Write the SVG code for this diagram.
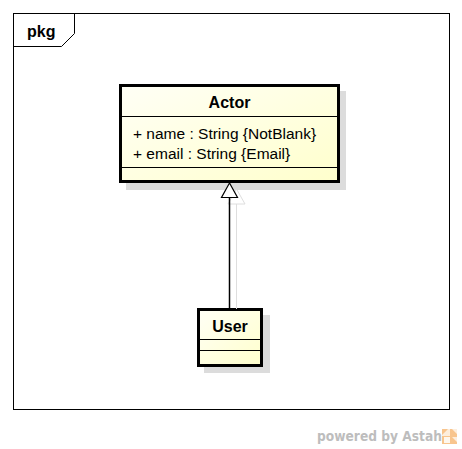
<svg xmlns="http://www.w3.org/2000/svg" width="462" height="449" viewBox="0 0 462 449">
<style>
.f{fill:none;stroke:#000;stroke-width:1}
.box{fill:url(#g);stroke:#000;stroke-width:3}
.sh{fill:#dcdcdc;stroke:none}
.div{stroke:#000;stroke-width:1;fill:none}
text{font-family:"Liberation Sans",Arial,sans-serif;fill:#000}
.t{font-size:16px;font-weight:bold;text-anchor:middle}
.m{font-size:15.500px}
</style>
<defs>
<linearGradient id="g" x1="0" y1="0" x2="1" y2="1"><stop offset="0" stop-color="#fffff6"/><stop offset="1" stop-color="#ffffcc"/></linearGradient>
</defs>
<rect width="462" height="449" fill="#fff"/>
<g id="frame">
<rect class="f" x="13.5" y="13.5" width="436" height="396"/>
<path class="f" d="M13.5 46.5H61.5L74.5 33.5V13.5"/>
<text x="27" y="37" font-size="16" font-weight="bold">pkg</text>
</g>
<g id="actor">
<rect class="sh" x="126" y="91" width="220" height="99"/>
<rect class="box" x="120.500" y="85.500" width="218" height="96"/>
<path class="div" d="M121 116.500H338M121 167.500H338"/>
<text class="t" x="229.500" y="107.500">Actor</text>
<text class="m" x="133" y="138.500">+ name : String {NotBlank}</text>
<text class="m" x="133" y="158.500">+ email : String {Email}</text>
</g>
<g id="user">
<rect class="sh" x="204" y="315" width="66" height="58"/>
<rect class="box" x="198.500" y="309.500" width="63" height="56"/>
<path class="div" d="M199 339.500H261M199 350.500H261"/>
<text class="t" x="230" y="331.500">User</text>
</g>
<g id="connectors">
<path d="M236.500 204V309M236.500 189L228 204H245Z" fill="#fff" stroke="#dedede" stroke-width="1"/>
<path d="M229.500 198V309" fill="none" stroke="#000" stroke-width="1.500"/>
<path d="M229.500 183L221.500 197.500H237.500Z" fill="#fff" stroke="#000" stroke-width="1.200"/>
</g>
<g id="brand">
<text x="317" y="441" font-size="14" font-weight="bold" style="fill:#bdbdbd;font-family:'DejaVu Sans',sans-serif" textLength="125" lengthAdjust="spacingAndGlyphs">powered by Astah</text>
<rect x="442" y="429" width="15" height="15" fill="#f8c58e"/>
<path d="M442 435L448 429H450V436H442ZM452 429L457 434V429ZM452 437L457 442V437Z" fill="#fff" opacity=".7"/>
<rect x="444" y="437" width="6" height="6" fill="#fff" opacity=".85"/>
</g>
</svg>
